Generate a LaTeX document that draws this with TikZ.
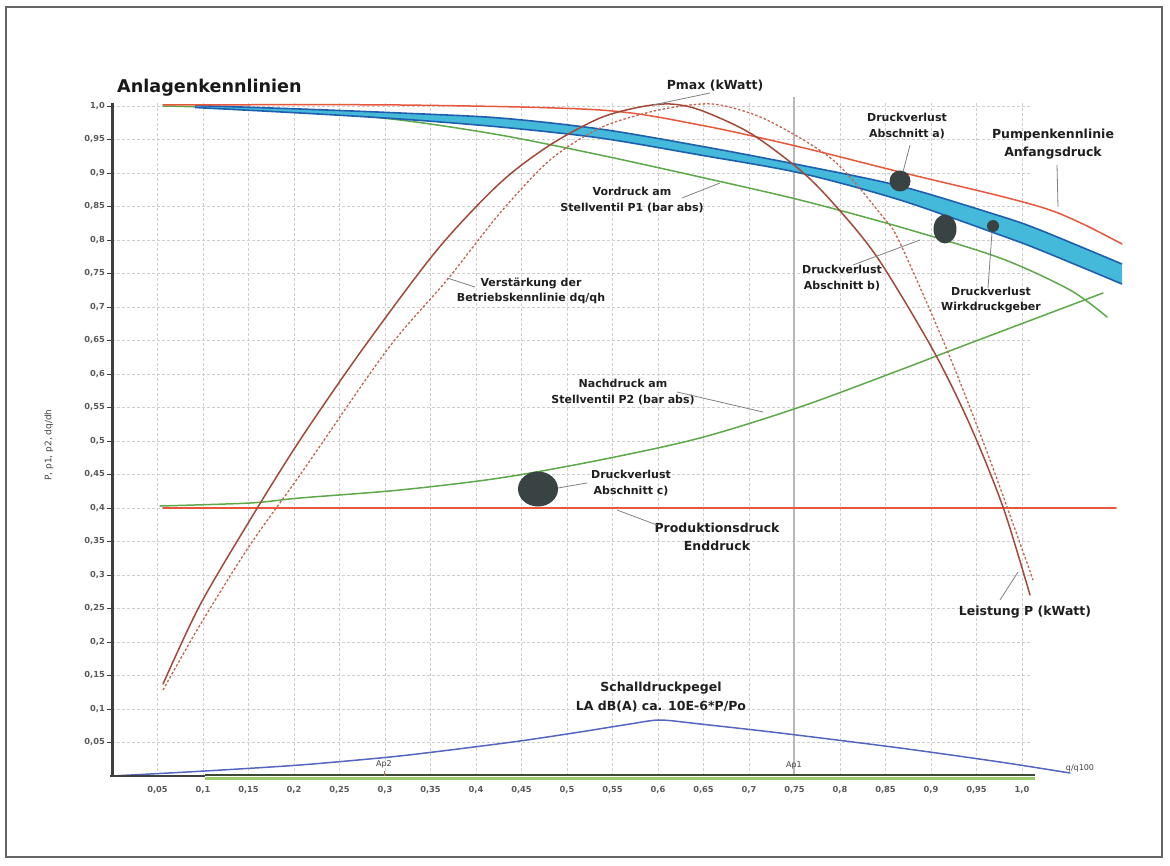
\documentclass[tikz,border=0pt]{standalone}
\usepackage{fontspec}
\setmainfont{DejaVu Sans}
\usetikzlibrary{shapes.geometric}
\definecolor{pumpred}{HTML}{E8573C}
\definecolor{leistbrown}{HTML}{A4493A}
\definecolor{leistdash}{HTML}{C4634E}
\definecolor{curvegreen}{HTML}{5DA848}
\definecolor{bandfill}{HTML}{45B9D9}
\definecolor{bandedge}{HTML}{1E5FAE}
\definecolor{schallblue}{HTML}{5566C0}
\definecolor{dotgray}{HTML}{394343}
\definecolor{gridgray}{HTML}{CFCFCF}
\definecolor{axisgray}{HTML}{3F3F3F}
\definecolor{bargreen}{HTML}{9CCB6A}
\definecolor{bardark}{HTML}{3C4A34}
\begin{document}
\begin{tikzpicture}[x=1pt,y=-1pt,
  gridline/.style={draw=gridgray, line width=0.8, dash pattern=on 3pt off 2pt},
  lbl/.style={font=\fontsize{11}{15.5}\selectfont\bfseries, align=center, inner sep=0pt, text=black!88},
  biglbl/.style={font=\fontsize{12.5}{18.5}\selectfont\bfseries, align=center, inner sep=0pt, text=black!88},
  ticklbl/.style={font=\fontsize{8.3}{9}\selectfont\bfseries, text=black!65, inner sep=0pt},
  leader/.style={draw=black!50, line width=0.8},
  dotnode/.style={ellipse, fill=dotgray, inner sep=0pt, draw=none},
  curve/.style={line width=1.5, line join=round, line cap=round}
]
\useasboundingbox (0,0) rectangle (1170,866);
\draw[axisgray!80, line width=1.5] (6,7) rectangle (1162,857);
% grid
\foreach \i in {1,...,20} \draw[gridline] ({112+45.5*\i},103) -- ({112+45.5*\i},776);
\foreach \j in {1,...,20} \draw[gridline] (112,{776-33.5*\j}) -- (1030,{776-33.5*\j});
% operating point line
\draw[black!28, line width=2.2] (794,97) -- (794,776);
% Schalldruckpegel
\draw[schallblue, curve] plot[smooth, tension=0.45] coordinates {(112,776) (205,771) (300,765) (390,757) (450,750) (520,741) (580,732) (630,724) (660,720) (700,724) (780,733) (900,748) (1000,762) (1070,773)};
% Produktionsdruck
\draw[pumpred, curve] (163,508) -- (1116,508);
% Nachdruck
\draw[curvegreen, curve] plot[smooth, tension=0.5] coordinates {(160,506) (250,503) (300,498) (400,490) (500,478) (600,460) (700,438) (800,407) (900,370) (960,347) (1103,293)};
% Vordruck
\draw[curvegreen, curve] plot[smooth, tension=0.5] coordinates {(163,106) (200,107) (300,111) (400,120) (500,135) (600,155) (700,177) (800,200) (900,227) (1000,258) (1070,290) (1107,317)};
% band
\fill[bandfill] plot[smooth, tension=0.5] coordinates {(195,105.5) (300,109) (400,113) (500,118) (600,129) (700,146) (800,165) (900,186) (1000,216) (1040,230) (1122,264)}
  -- plot[smooth, tension=0.5] coordinates {(1122,284) (1040,250) (1000,235) (900,200) (800,173) (700,155) (600,138) (500,127) (400,119) (300,113) (195,107.5)} -- cycle;
\draw[bandedge, line width=1.6] plot[smooth, tension=0.5] coordinates {(195,105.5) (300,109) (400,113) (500,118) (600,129) (700,146) (800,165) (900,186) (1000,216) (1040,230) (1122,264)};
\draw[bandedge, line width=1.6] plot[smooth, tension=0.5] coordinates {(195,107.5) (300,113) (400,119) (500,127) (600,138) (700,155) (800,173) (900,200) (1000,235) (1040,250) (1122,284)};
% Pumpenkennlinie
\draw[pumpred, curve] plot[smooth, tension=0.5] coordinates {(163,105) (400,105) (600,110) (700,125) (800,147) (900,172) (1000,196) (1050,210) (1085,225) (1122,244)};
% Leistung dashed
\draw[leistdash, line width=1.3, dash pattern=on 2.5pt off 2pt] plot[smooth, tension=0.5] coordinates {(163,690) (200,625) (250,545) (300,475) (387,350) (447,280) (500,213) (550,160) (600,128) (650,112) (690,105) (720,105) (767,120) (833,160) (883,217) (900,243) (947,350) (990,460) (1033,580)};
% Leistung solid
\draw[leistbrown, curve] plot[smooth, tension=0.5] coordinates {(163,684) (200,605) (250,520) (300,440) (362,350) (437,250) (500,183) (550,145) (600,118) (640,107) (670,104) (700,110) (750,133) (800,170) (833,203) (877,257) (933,350) (970,425) (1003,507) (1030,595)};
% x axis
\draw[axisgray, line width=2] (110,776) -- (205,776);
\draw[bargreen, line width=3] (205,778.2) -- (1035,778.2);
\draw[bardark, line width=2] (205,775.4) -- (1035,775.4);
% y axis
\draw[axisgray, line width=3] (112,103) -- (112,777);
\foreach \j/\t in {20/{1,0},19/{0,95},18/{0,9},17/{0,85},16/{0,8},15/{0,75},14/{0,7},13/{0,65},12/{0,6},11/{0,55},10/{0,5},9/{0,45},8/{0,4},7/{0,35},6/{0,3},5/{0,25},4/{0,2},3/{0,15},2/{0,1},1/{0,05}}{
  \draw[axisgray, line width=0.8] (107,{776-33.5*\j}) -- (112,{776-33.5*\j});
  \node[ticklbl, anchor=east] (yl\j) at (105,{776-33.5*\j}) {\t};
}
\foreach \i/\t in {1/{0,05},2/{0,1},3/{0,15},4/{0,2},5/{0,25},6/{0,3},7/{0,35},8/{0,4},9/{0,45},10/{0,5},11/{0,55},12/{0,6},13/{0,65},14/{0,7},15/{0,75},16/{0,8},17/{0,85},18/{0,9},19/{0,95},20/{1,0}}{
  \node[ticklbl] (xl\i) at ({112+45.5*\i},790) {\t};
}
\node[font=\fontsize{9}{10}\selectfont, text=black!75, rotate=90] (ylabel) at (49,445) {P, p1, p2, dq/dh};
\node[font=\fontsize{8}{9}\selectfont, text=black!75] (qlabel) at (1080,768) {q/q100};
\draw[leistdash, line width=1] (384,771) -- (384,776);
\node[font=\fontsize{8}{9}\selectfont, text=black!75] (ap2) at (384,764) {Ap2};
\node[font=\fontsize{8}{9}\selectfont, text=black!75] (ap1) at (794,765) {Ap1};
% title
\node[font=\fontsize{17.6}{20}\selectfont\bfseries, anchor=west, inner sep=0pt, text=black!90] (title) at (117,88) {Anlagenkennlinien};
% dots
\node[dotnode, minimum width=21, minimum height=21] (dota) at (900,181) {};
\node[dotnode, minimum width=23, minimum height=29] (dotb) at (945,229) {};
\node[dotnode, minimum width=12, minimum height=12] (dotw) at (993,226) {};
\node[dotnode, minimum width=40, minimum height=35] (dotc) at (538,489) {};
% labels
\node[lbl] (la) at (907,126) {Druckverlust\\Abschnitt a)};
\node[lbl] (lb) at (842,278) {Druckverlust\\Abschnitt b)};
\node[lbl] (lw) at (991,300) {Druckverlust\\Wirkdruckgeber};
\node[lbl] (lc) at (631,483) {Druckverlust\\Abschnitt c)};
\node[lbl] (lv) at (632,200) {Vordruck am\\Stellventil P1 (bar abs)};
\node[lbl] (ln) at (623,392) {Nachdruck am\\Stellventil P2 (bar abs)};
\node[lbl] (lvs) at (531,291) {Verstärkung der\\Betriebskennlinie dq/qh};
\node[biglbl] (lpump) at (1053,144) {Pumpenkennlinie\\Anfangsdruck};
\node[biglbl] (lprod) at (717,537) {Produktionsdruck\\Enddruck};
\node[biglbl] (lschall) at (661,697) {Schalldruckpegel\\LA dB(A) ca. 10E-6*P/Po};
\node[biglbl] (lpmax) at (715,86) {Pmax (kWatt)};
\node[biglbl] (lleist) at (1025,612) {Leistung P (kWatt)};
% leader end points
\coordinate (ea) at (903,172);
\coordinate (eb) at (920,240);
\coordinate (ew) at (992,232);
\coordinate (ec) at (558,488);
\coordinate (ev) at (720,183);
\coordinate (en) at (763,412);
\coordinate (evs) at (447,278);
\coordinate (epump) at (1058,207);
\coordinate (eprod) at (617,510);
\coordinate (epmax) at (653,105);
\coordinate (eleist) at (1018,572);
% leaders
\draw[leader] (910,145) -- (ea);
\draw[leader] (853,265) -- (eb);
\draw[leader] (988,288) -- (ew);
\draw[leader] (587,483) -- (ec);
\draw[leader] (682,198) -- (ev);
\draw[leader] (677,392) -- (en);
\draw[leader] (475,287) -- (evs);
\draw[leader] (1057,165) -- (epump);
\draw[leader] (657,525) -- (eprod);
\draw[leader] (710,93) -- (epmax);
\draw[leader] (1000,600) -- (eleist);
\end{tikzpicture}
\end{document}
